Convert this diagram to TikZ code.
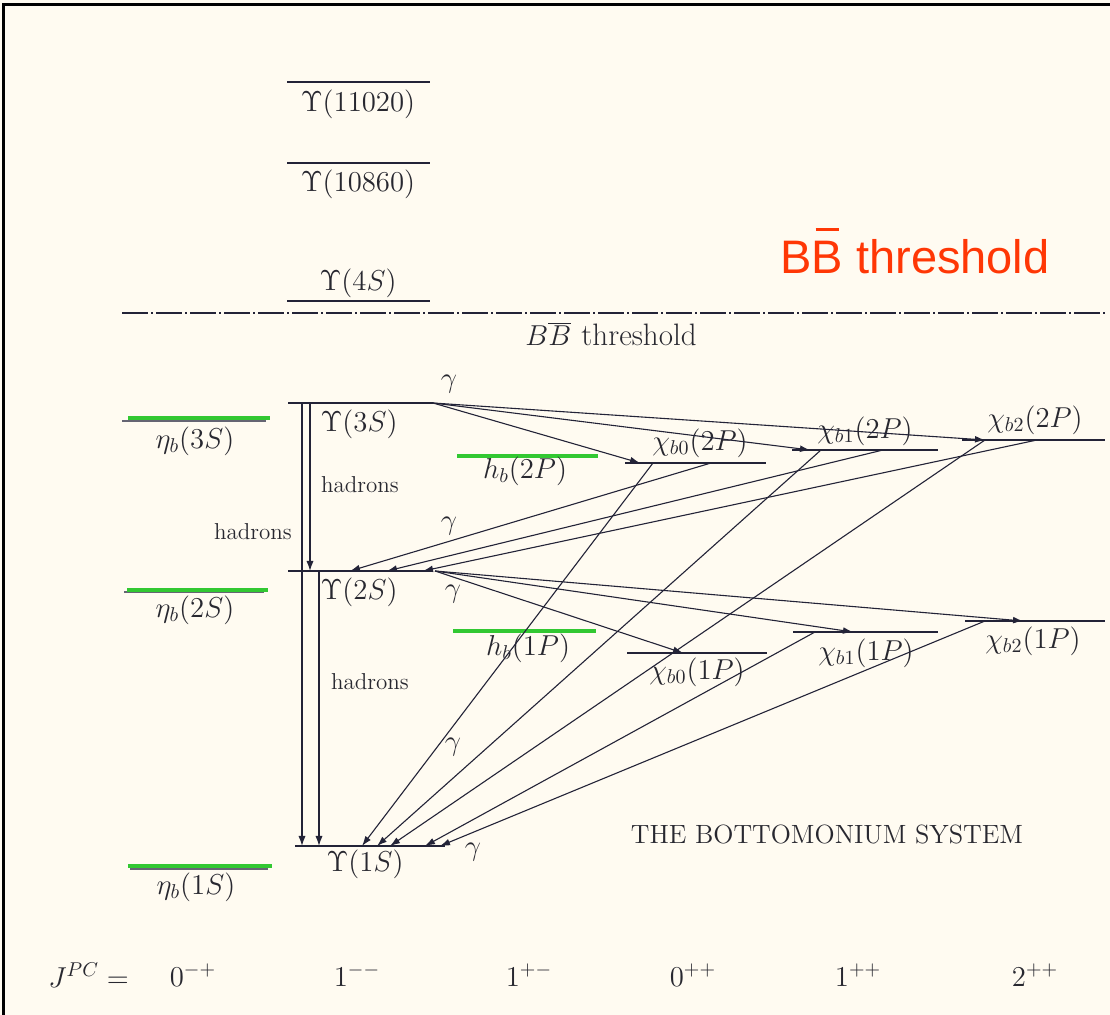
\documentclass[tikz,border=0pt]{standalone}
\usepackage{fontspec}
\newfontfamily\redfont{Liberation Sans}
\usetikzlibrary{arrows.meta}
\definecolor{bgc}{RGB}{255,251,241}
\definecolor{lc}{RGB}{35,35,55}
\definecolor{tc}{RGB}{40,40,48}
\definecolor{gc}{RGB}{50,200,50}
\definecolor{rc}{RGB}{255,55,5}
\tikzset{
  lvl/.style={line width=1.1pt, draw=lc},
  glvl/.style={line width=2pt, draw=gc},
  olvl/.style={line width=0.8pt, draw=lc!70},
  trans/.style={line width=0.55pt, draw=lc, -{Latex[length=5pt,width=3.4pt]}},
  had/.style={line width=0.6pt, draw=lc, -{Latex[length=5pt,width=3.6pt]}},
  lab/.style={font=\fontsize{14}{17}\selectfont, text=tc, inner sep=0pt},
  small/.style={font=\fontsize{11.5}{13}\selectfont, text=tc, inner sep=0pt},
  gam/.style={font=\fontsize{14}{16}\selectfont, text=tc, inner sep=0pt}
}
\begin{document}
\begin{tikzpicture}[x=0.5pt,y=-0.5pt]
\useasboundingbox (0,0) rectangle (1110,1015);
\fill[bgc] (0,0) rectangle (1110,1015);
\draw[line width=1.5pt, black] (3,1015) -- (3,5) -- (1110,5);

% upper Upsilon levels
\draw[lvl] (287,82) -- (430,82);
\node[lab] (l11020) at (358,104) {$\Upsilon(11020)$};
\draw[lvl] (287,163) -- (430,163);
\node[lab] (l10860) at (358,184) {$\Upsilon(10860)$};
\draw[lvl] (287,301) -- (430,301);
\node[lab] (l4S) at (358,283) {$\Upsilon(4S)$};

% threshold
\draw[line width=0.8pt, draw=lc, dash pattern=on 13pt off 1.5pt on 1pt off 1.5pt] (122,313) -- (1105,313);
\node[lab, font=\fontsize{15.5}{18}\selectfont] (thr) at (611,334) {$B\overline{B}$\,\,threshold};
\node[inner sep=0pt, text=rc, font=\redfont\fontsize{23.5}{28}\selectfont] (redthr) at (915,257)
  {B\ooalign{B\cr\hidewidth\rule[0.9em]{0.5em}{1.6pt}\hidewidth} threshold};

% level coordinates
\coordinate (U3L) at (288,403); \coordinate (U3R) at (433,403);
\coordinate (U2L) at (288,571); \coordinate (U2R) at (433,571);
\coordinate (U1L) at (295,846); \coordinate (U1R) at (445,846);
\draw[lvl] (U3L) -- (U3R);
\draw[lvl] (U2L) -- (U2R);
\draw[lvl] (U1L) -- (U1R);
\node[lab] (lU3) at (359,424) {$\Upsilon(3S)$};
\node[lab] (lU2) at (359,592) {$\Upsilon(2S)$};
\node[lab] (lU1) at (365,864) {$\Upsilon(1S)$};

% eta_b levels
\draw[olvl] (122,421) -- (266,421);
\draw[glvl] (128,418) -- (270,418);
\node[lab] (le3) at (195,441) {$\eta_b(3S)$};
\draw[olvl] (124,592) -- (264,592);
\draw[glvl] (127,590) -- (268,590);
\node[lab] (le2) at (195,610) {$\eta_b(2S)$};
\draw[olvl] (130,869) -- (268,869);
\draw[glvl] (128,866) -- (272,866);
\node[lab] (le1) at (196,887) {$\eta_b(1S)$};

% h_b levels
\draw[glvl] (457,456) -- (598,456);
\node[lab] (lh2) at (525,471) {$h_b(2P)$};
\draw[glvl] (453,631) -- (596,631);
\node[lab] (lh1) at (528,648) {$h_b(1P)$};

% chi_b(2P)
\coordinate (c02L) at (625,463); \coordinate (c02R) at (766,463);
\coordinate (c12L) at (792,450); \coordinate (c12R) at (938,450);
\coordinate (c22L) at (962,440); \coordinate (c22R) at (1105,440);
\draw[lvl] (c02L) -- (c02R);
\draw[lvl] (c12L) -- (c12R);
\draw[lvl] (c22L) -- (c22R);
\node[lab] (lc02) at (700,443) {$\chi_{b0}(2P)$};
\node[lab] (lc12) at (865,431) {$\chi_{b1}(2P)$};
\node[lab] (lc22) at (1035,420) {$\chi_{b2}(2P)$};

% chi_b(1P)
\coordinate (c01L) at (627,653); \coordinate (c01R) at (767,653);
\coordinate (c11L) at (793,632); \coordinate (c11R) at (938,632);
\coordinate (c21L) at (965,621); \coordinate (c21R) at (1105,621);
\draw[lvl] (c01L) -- (c01R);
\draw[lvl] (c11L) -- (c11R);
\draw[lvl] (c21L) -- (c21R);
\node[lab] (lc01) at (697,672) {$\chi_{b0}(1P)$};
\node[lab] (lc11) at (866,653) {$\chi_{b1}(1P)$};
\node[lab] (lc21) at (1033,641) {$\chi_{b2}(1P)$};

% hadronic transitions
\coordinate (hA1) at (302,403); \coordinate (hA2) at (302,846);
\coordinate (hB1) at (310,403); \coordinate (hB2) at (310,571);
\coordinate (hC1) at (319,571); \coordinate (hC2) at (319,846);
\draw[had] (hA1) -- (hA2);
\draw[had] (hB1) -- (hB2);
\draw[had] (hC1) -- (hC2);
\node[small] (hadA) at (253,532) {hadrons};
\node[small] (hadB) at (360,485) {hadrons};
\node[small] (hadC) at (370,682) {hadrons};

% 3S -> chi_b(2P)
\coordinate (t02) at (640,463); \coordinate (t12) at (810,450); \coordinate (t22) at (985,440);
\draw[trans] (U3R) -- (t02);
\draw[trans] (U3R) -- (t12);
\draw[trans] (U3R) -- (t22);

% chi_b(2P) -> 2S
\coordinate (s02) at (711,463); \coordinate (s12) at (883,450); \coordinate (s22) at (1037,440);
\coordinate (e2a) at (350,571); \coordinate (e2b) at (387,571); \coordinate (e2c) at (423,571);
\draw[trans] (s02) -- (e2a);
\draw[trans] (s12) -- (e2b);
\draw[trans] (s22) -- (e2c);

% 2S -> chi_b(1P)
\coordinate (U2s) at (435,571);
\coordinate (t01) at (683,653); \coordinate (t11) at (853,632); \coordinate (t21) at (1023,621);
\draw[trans] (U2s) -- (t01);
\draw[trans] (U2s) -- (t11);
\draw[trans] (U2s) -- (t21);

% chi_b(2P) -> 1S
\coordinate (r02) at (653,463); \coordinate (r12) at (821,450); \coordinate (r22) at (985,440);
\coordinate (e1a) at (362,846); \coordinate (e1b) at (377,846); \coordinate (e1c) at (390,846);
\draw[trans] (r02) -- (e1a);
\draw[trans] (r12) -- (e1b);
\draw[trans] (r22) -- (e1c);

% chi_b(1P) -> 1S
\coordinate (r11) at (815,632); \coordinate (r21) at (985,621);
\coordinate (e1d) at (425,846); \coordinate (e1e) at (440,846);
\draw[trans] (r11) -- (e1d);
\draw[trans] (r21) -- (e1e);

% gamma labels
\node[gam] (g1) at (449,384) {$\gamma$};
\node[gam] (g2) at (449,526) {$\gamma$};
\node[gam] (g3) at (453,594) {$\gamma$};
\node[gam] (g4) at (453,747) {$\gamma$};
\node[gam] (g5) at (473,852) {$\gamma$};

% title
\node[inner sep=0pt, text=tc, font=\fontsize{13.2}{15}\selectfont] (title) at (827,834) {THE BOTTOMONIUM SYSTEM};

% JPC row
\node[lab, anchor=west] (jpc) at (48,975) {$J^{PC} =$};
\node[lab] (q1) at (193,975) {$0^{-+}$};
\node[lab] (q2) at (357,975) {$1^{--}$};
\node[lab] (q3) at (529,975) {$1^{+-}$};
\node[lab] (q4) at (693,975) {$0^{++}$};
\node[lab] (q5) at (858,975) {$1^{++}$};
\node[lab] (q6) at (1035,975) {$2^{++}$};
\end{tikzpicture}
\end{document}
